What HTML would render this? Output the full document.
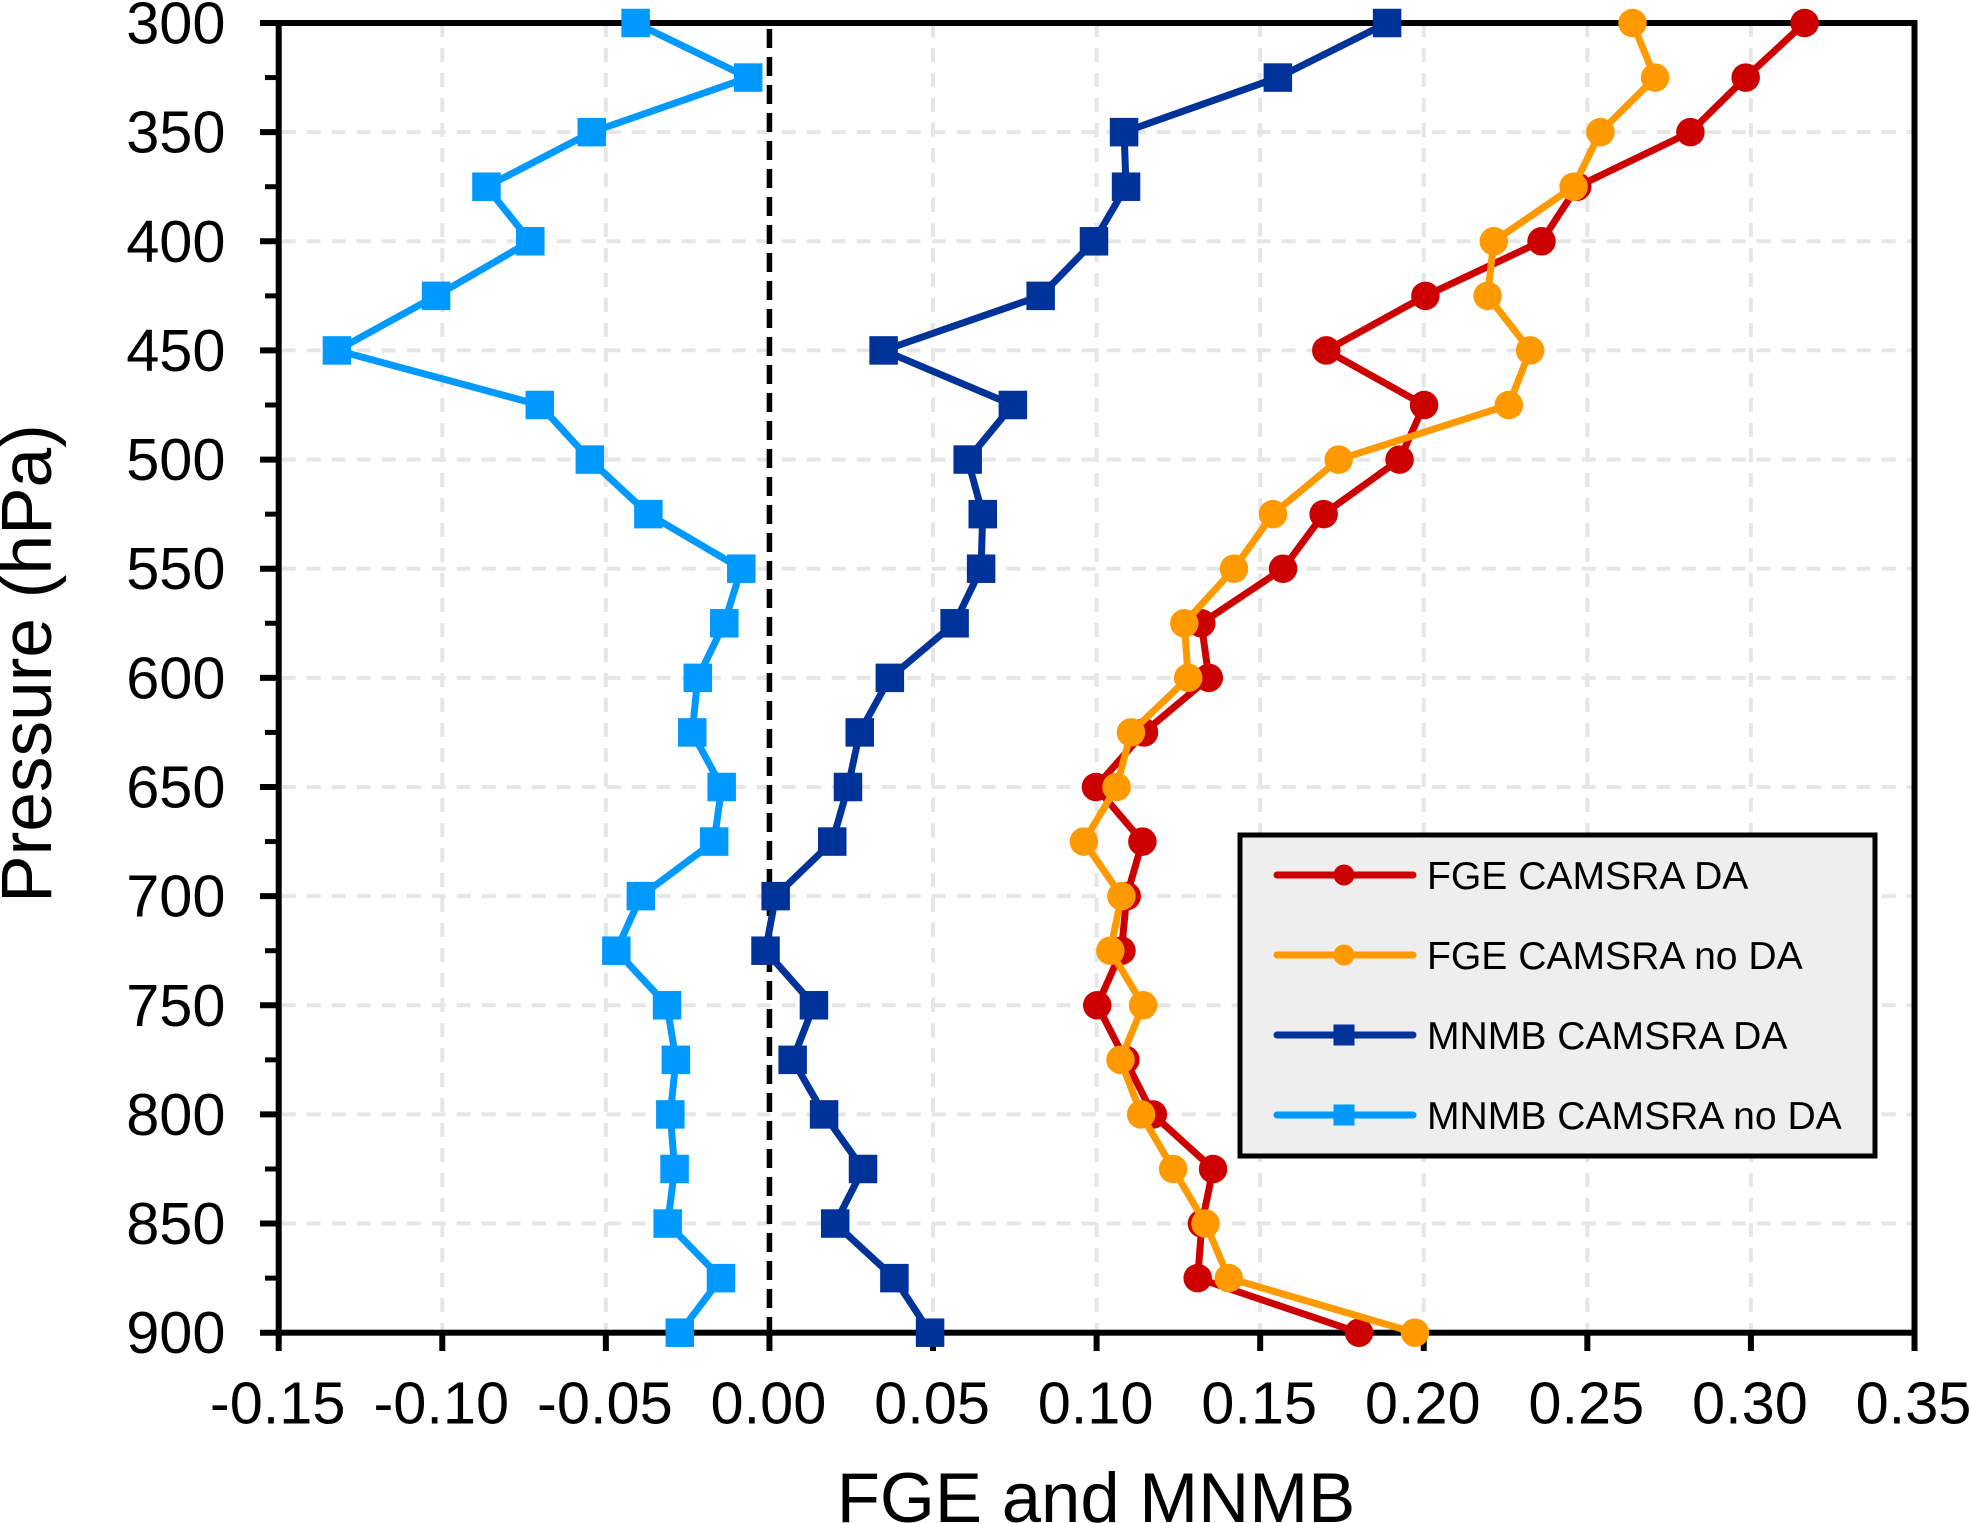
<!DOCTYPE html>
<html>
<head>
<meta charset="utf-8">
<title>FGE and MNMB profile chart</title>
<style>
html,body{margin:0;padding:0;background:#fff;width:1970px;height:1523px;overflow:hidden}
svg{display:block;font-family:"Liberation Sans",Arial,sans-serif}
</style>
</head>
<body>
<svg id="chart" xmlns="http://www.w3.org/2000/svg" width="1970" height="1523" viewBox="0 0 1970 1523">
<rect x="0" y="0" width="1970" height="1523" fill="#ffffff"/>
<g id="grid"></g>
<g id="axes"></g>
<g id="series"></g>
<text x="1096" y="1522" font-size="70.7" text-anchor="middle" fill="#000">FGE and MNMB</text>
<text transform="translate(51,663.5) rotate(-90)" font-size="71.2" text-anchor="middle" fill="#000">Pressure (hPa)</text>
<g id="legend">
<rect x="1240" y="835" width="635" height="321" fill="#eeeeee" stroke="#000" stroke-width="5"/>
<text x="1427" y="889" font-size="39.1" fill="#000">FGE CAMSRA DA</text>
<text x="1427" y="969" font-size="39.1" fill="#000">FGE CAMSRA no DA</text>
<text x="1427" y="1049" font-size="39.1" fill="#000">MNMB CAMSRA DA</text>
<text x="1427" y="1129" font-size="39.1" fill="#000">MNMB CAMSRA no DA</text>
</g>
</svg>
<script>
const pressureLevels = [300,325,350,375,400,425,450,475,500,525,550,575,600,625,650,675,700,725,750,775,800,825,850,875,900];
const xTickValues = [-0.15,-0.10,-0.05,0.00,0.05,0.10,0.15,0.20,0.25,0.30,0.35];
const yMajorTicks = [300,350,400,450,500,550,600,650,700,750,800,850,900];
const fgeDa = [0.3164,0.2984,0.2815,0.2469,0.2360,0.2005,0.1702,0.2001,0.1926,0.1694,0.1570,0.1320,0.1343,0.1145,0.0998,0.1140,0.1092,0.1076,0.1002,0.1088,0.1172,0.1356,0.1322,0.1309,0.1802];
const fgeNoDa = [0.2638,0.2707,0.2540,0.2458,0.2214,0.2195,0.2325,0.2260,0.1740,0.1539,0.1420,0.1268,0.1280,0.1105,0.1061,0.0961,0.1076,0.1042,0.1142,0.1073,0.1136,0.1234,0.1333,0.1404,0.1973];
const mnmbDa = [0.1888,0.1554,0.1084,0.1090,0.0992,0.0829,0.0349,0.0744,0.0606,0.0652,0.0647,0.0566,0.0368,0.0276,0.0240,0.0192,0.0019,-0.0012,0.0136,0.0071,0.0167,0.0286,0.0201,0.0382,0.0491];
const mnmbNoDa = [-0.0409,-0.0065,-0.0543,-0.0865,-0.0731,-0.1019,-0.1322,-0.0702,-0.0549,-0.0370,-0.0086,-0.0138,-0.0219,-0.0236,-0.0146,-0.0169,-0.0393,-0.0468,-0.0313,-0.0286,-0.0303,-0.0290,-0.0311,-0.0148,-0.0274];

const NS = 'http://www.w3.org/2000/svg';
const plotL = 278.7, plotR = 1914.5, plotT = 23, plotB = 1332.7;
function xScale(v){ return plotL + (v + 0.15) / 0.5 * (plotR - plotL); }
function yScale(p){ return plotT + (p - 300) / 600 * (plotB - plotT); }
function mk(tag, attrs, parent){
  const el = document.createElementNS(NS, tag);
  for (const k in attrs) el.setAttribute(k, attrs[k]);
  parent.appendChild(el);
  return el;
}
const grid = document.getElementById('grid');
const axes = document.getElementById('axes');
const seriesG = document.getElementById('series');
const legend = document.getElementById('legend');

xTickValues.forEach(function(v){
  if (Math.abs(v) < 1e-9 || v === xTickValues[0] || v === xTickValues[xTickValues.length-1]) return;
  const l = mk('line', {x1:xScale(v), x2:xScale(v), y1:plotT, y2:plotB, stroke:'#e6e6e6', 'stroke-width':4, 'stroke-dasharray':'14 11'}, grid);
  
  
});
yMajorTicks.forEach(function(p){
  if (p === 300 || p === 900) return;
  const l = mk('line', {x1:plotL, x2:plotR, y1:yScale(p), y2:yScale(p), stroke:'#e6e6e6', 'stroke-width':4, 'stroke-dasharray':'14 11', 'stroke-dashoffset':'-3'}, grid);
  
  
});

const frame = mk('rect', {x:plotL, y:plotT, width:plotR-plotL, height:plotB-plotT, fill:'none', stroke:'#000', 'stroke-width':6}, axes);



const zeroLine = mk('line', {x1:xScale(0), x2:xScale(0), y1:plotT, y2:plotB, stroke:'#000', 'stroke-width':5.5, 'stroke-dasharray':'19 9', 'stroke-dashoffset':'-6'}, axes);



xTickValues.forEach(function(v){
  const t = mk('line', {x1:xScale(v), x2:xScale(v), y1:plotB, y2:1351, stroke:'#000', 'stroke-width':6}, axes);
  
  
  const lb = mk('text', {x:xScale(v)-1, y:1423.5, 'font-size':59.5, 'text-anchor':'middle', fill:'#000'}, axes);
  
  
  lb.textContent = v.toFixed(2);
});
pressureLevels.forEach(function(p){
  const major = yMajorTicks.indexOf(p) >= 0;
  const t = mk('line', {x1:major ? 260 : 265, x2:plotL, y1:yScale(p), y2:yScale(p), stroke:'#000', 'stroke-width':major ? 6 : 5}, axes);
  
  
});
yMajorTicks.forEach(function(p){
  const lb = mk('text', {x:225.5, y:yScale(p)+20.5, 'font-size':59.5, 'text-anchor':'end', fill:'#000'}, axes);
  
  
  lb.textContent = String(p);
});

function marker(kind, cx, cy, size, color, parent){
  if (kind === 'circle') return mk('circle', {cx:cx, cy:cy, r:size/2, fill:color}, parent);
  return mk('rect', {x:cx-size/2, y:cy-size/2, width:size, height:size, fill:color}, parent);
}
function drawSeries(values, color, kind, name){
  const g = mk('g', {}, seriesG);
  
  
  const pts = values.map(function(v,i){ return xScale(v).toFixed(1)+','+yScale(pressureLevels[i]).toFixed(1); }).join(' ');
  const line = mk('polyline', {points:pts, fill:'none', stroke:color, 'stroke-width':7, 'stroke-linejoin':'round', 'stroke-linecap':'round'}, g);
  
  
  values.forEach(function(v,i){
    const m = marker(kind, xScale(v), yScale(pressureLevels[i]), 28.5, color, g);
    
    
  });
}
drawSeries(fgeDa, '#cc0000', 'circle', 'series-fge-camsra-da');
drawSeries(fgeNoDa, '#ff9900', 'circle', 'series-fge-camsra-no-da');
drawSeries(mnmbDa, '#003399', 'square', 'series-mnmb-camsra-da');
drawSeries(mnmbNoDa, '#0099ff', 'square', 'series-mnmb-camsra-no-da');

const legendColors = ['#cc0000','#ff9900','#003399','#0099ff'];
const legendKinds = ['circle','circle','square','square'];
const legendRows = [875,955,1035,1115];
legendRows.forEach(function(y,i){
  const l = mk('line', {x1:1277, x2:1413, y1:y, y2:y, stroke:legendColors[i], 'stroke-width':7, 'stroke-linecap':'round'}, legend);
  
  
  const m = marker(legendKinds[i], 1344, y, 21, legendColors[i], legend);
  
  
});
</script>
</body>
</html>
